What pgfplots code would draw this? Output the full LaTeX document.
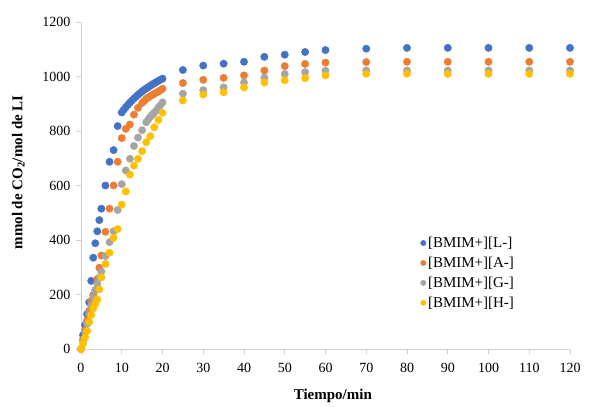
\documentclass[border=0pt]{standalone}
\usepackage{fontspec}
\setmainfont{Liberation Serif}
\usepackage{pgfplots}
\pgfplotsset{compat=1.18}
\definecolor{xblue}{HTML}{4472C4}
\definecolor{xorange}{HTML}{ED7D31}
\definecolor{xgray}{HTML}{A5A5A5}
\definecolor{xyellow}{HTML}{FFC000}
\definecolor{axgray}{HTML}{D0D0D0}

\begin{document}
\begin{tikzpicture}
\begin{axis}[
  width=489pt, height=327pt, scale only axis,
  xmin=0, xmax=120, ymin=0, ymax=1200,
  xtick={0,10,...,120}, ytick={0,200,...,1200},
  axis x line*=bottom, axis y line*=left,
  axis line style={draw=axgray, line width=0.8pt},
  tick style={draw=axgray, line width=0.8pt},
  tick align=outside, major tick length=5pt,
  ticklabel style={font=\fontsize{14}{16}\selectfont},
  xticklabel style={yshift=-6pt},
  yticklabel style={xshift=-2pt},
  /pgf/number format/assume math mode=true,
  /pgf/number format/1000 sep={},
  xlabel={\textbf{Tiempo/min}},
  ylabel={\textbf{mmol de CO\textsubscript{2}/mol de LI}},
  xlabel style={font=\fontsize{15}{17}\selectfont, at={(axis description cs:0.515,-0.112)}, anchor=north},
  ylabel style={font=\fontsize{15}{17}\selectfont, at={(axis description cs:-0.108,0.54)}, anchor=south},
  clip=false,
  every axis plot/.append style={only marks, mark=*, mark size=3.7pt},
  legend style={draw=none, fill=none, at={(axis description cs:0.69,0.355)}, anchor=north west,
    font=\fontsize{15}{17}\selectfont, row sep=4pt, inner sep=2pt},
  legend cell align=left,
  legend image code/.code={\draw[#1,mark size=2.7pt] plot coordinates {(0.12cm,0cm)};},
]
\addplot[color=xblue, mark options={fill=xblue, draw=xblue}] coordinates {
(0,0) (0.5,51) (1,88) (1.5,128) (2,171) (2.5,250) (3,335) (3.5,388) (4,432) (4.5,473)
(5,515) (6,600) (7,687) (8,730) (9,818) (10,868) (10.5,878) (11,887) (11.5,896) (12,904)
(12.5,912) (13,919) (13.5,926) (14,933) (14.5,939) (15,945) (15.5,951) (16,956) (16.5,961)
(17,966) (17.5,971) (18,975) (18.5,980) (19,984) (19.5,988) (20,992)
(25,1024) (30,1040) (35,1047) (40,1054) (45,1072) (50,1080) (55,1090) (60,1097)
(70,1102) (80,1105) (90,1105) (100,1105) (110,1105) (120,1105)};
\addlegendentry{[BMIM+][L-]}
\addplot[color=xorange, mark options={fill=xorange, draw=xorange}] coordinates {
(0,0) (0.5,35) (1,68) (1.5,105) (2,140) (2.5,175) (3,198) (3.5,216) (4,257) (4.5,298)
(5,343) (6,430) (7,515) (8,600) (9,687) (10,774) (11,808) (12,824) (13,860) (14,885)
(15,903) (15.5,910) (16,918) (16.5,923) (17,928) (17.5,932) (18,937) (18.5,941) (19,945)
(19.5,950) (20,955)
(25,976) (30,988) (35,995) (40,1004) (45,1022) (50,1038) (55,1046) (60,1051)
(70,1053) (80,1054) (90,1054) (100,1054) (110,1054) (120,1054)};
\addlegendentry{[BMIM+][A-]}
\addplot[color=xgray, mark options={fill=xgray, draw=xgray}] coordinates {
(0,0) (0.5,30) (1,60) (1.5,92) (2,128) (2.5,160) (3,188) (3.5,215) (4,240) (4.5,262)
(5,284) (6,341) (7,392) (8,432) (9,510) (10,605) (11,655) (12,698) (13,745) (14,776)
(15,803) (16,832) (16.5,842) (17,852) (17.5,860) (18,868) (18.5,875) (19,886) (19.5,895)
(20,905)
(25,937) (30,950) (35,960) (40,978) (45,996) (50,1009) (55,1016) (60,1021)
(70,1022) (80,1022) (90,1022) (100,1022) (110,1022) (120,1022)};
\addlegendentry{[BMIM+][G-]}
\addplot[color=xyellow, mark options={fill=xyellow, draw=xyellow}] coordinates {
(0,0) (0.5,20) (1,42) (1.5,66) (2,100) (2.5,125) (3,149) (3.5,166) (4,182) (4.5,219)
(5,263) (6,312) (7,353) (8,408) (9,440) (10,530) (11,578) (12,640) (13,673) (14,698)
(15,726) (16,759) (17,781) (18,814) (19,841) (20,867)
(25,912) (30,934) (35,942) (40,960) (45,978) (50,986) (55,994) (60,1004)
(70,1010) (80,1010) (90,1010) (100,1010) (110,1010) (120,1010)};
\addlegendentry{[BMIM+][H-]}
\end{axis}
\path (current axis.south west) ++(-81pt,-51pt) rectangle ([shift={(26pt,22pt)}]current axis.north east);
\end{tikzpicture}
\end{document}
